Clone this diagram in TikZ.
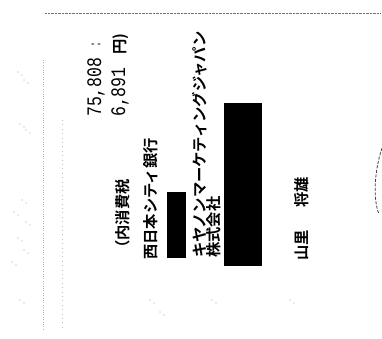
\documentclass[tikz,border=0pt]{standalone}
\usepackage{fontspec}
\usepackage{tikz}
\usetikzlibrary{positioning}
\newfontfamily\jpfont{Noto Sans CJK JP}[BoldFont={Noto Sans CJK JP Bold}]
\newfontfamily\numfont{Liberation Mono}

\tikzset{
  jptext/.style = {rotate=90, anchor=west, inner sep=0pt,
                   font=\jpfont\bfseries\fontsize{15.3}{16}\selectfont},
  numtext/.style = {rotate=90, anchor=west, inner sep=0pt,
                    font=\numfont\fontsize{16.5}{17}\selectfont},
  bar/.style = {fill=black, draw=none},
  speck/.style = {black!55, densely dotted}
}

\begin{document}
\begin{tikzpicture}[x = 1pt, y = -1pt]
\useasboundingbox[fill=white] (0,0) rectangle (382,338);

% scan noise
\draw[speck] (45,13) -- (380,13);
\draw[gray!60, dotted] (43,60) -- (43,330);
\draw[gray!50, loosely dotted] (62,120) -- (62,330);
\foreach \sx/\sy in {18/72, 24/80, 20/124, 26/130, 22/200, 14/212, 26/222,
                     18/238, 24/250, 12/262, 20/300, 150/300, 160/312, 212/300, 290/300}
  \fill[gray!70] (\sx,\sy) circle (0.7pt) (\sx+4,\sy+3) circle (0.6pt);

% amounts
\node[numtext] (total) at (96,117) {\scalebox{1}[1.25]{75,808}};
\node[numtext, text=gray] (colon) at (96,50) {:};
\node[numtext] (tax) at (120,117) {\scalebox{1}[1.25]{6,891}};
\node[jptext] (yen) at (121,55) {円)};
\node[jptext] (taxlbl) at (123,256) {（内消費税};

% payer, bank
\node[jptext] (bank) at (151,260) {西日本シティ銀行};
\node[jptext] (comp) at (200,258) {キヤノンマーケティングジャパン};
\node[jptext] (kk) at (214,258) {株式会社};

% redactions
\fill[bar] (167,192) rectangle (186,258);
\fill[bar] (224,103) rectangle (262,266);

% name
\node[jptext] (fam) at (302,261) {山里};
\node[jptext] (given) at (302,208) {将雄};

% stamp edge
\draw[black!75, line width=0.8pt, dash pattern=on 3pt off 1.5pt] (382,148) .. controls (374,172) and (373,200) .. (379,214);

\end{tikzpicture}
\end{document}
